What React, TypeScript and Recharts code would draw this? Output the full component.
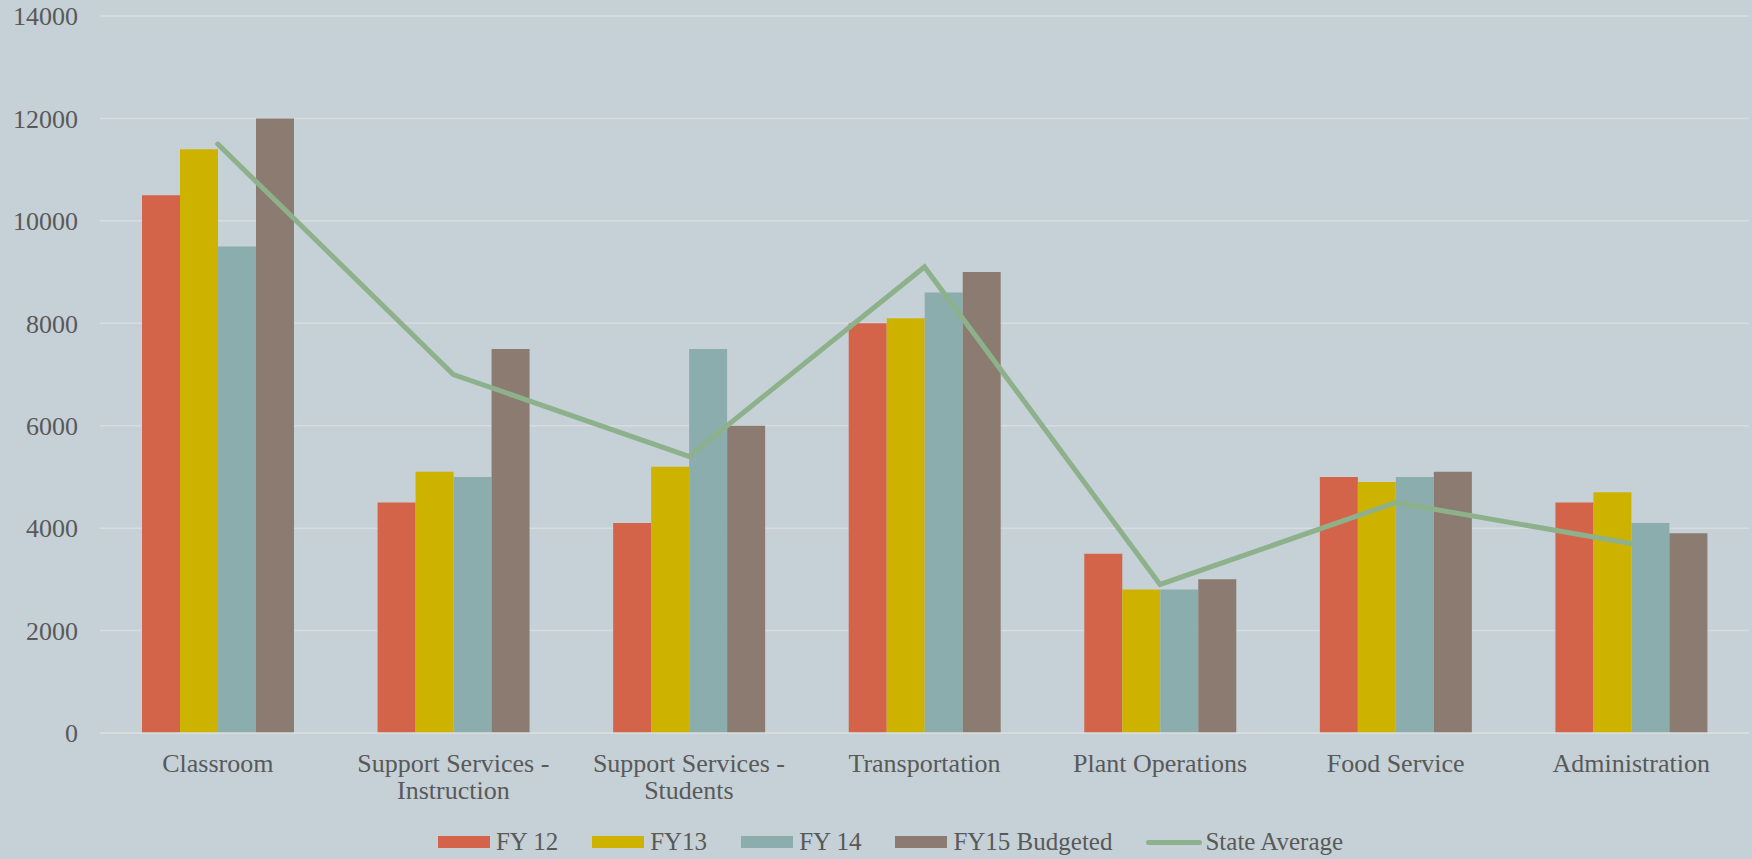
import React from 'react';
import {
  ComposedChart, Bar, Line, XAxis, YAxis, CartesianGrid, Legend,
} from 'recharts';

const categories = [
  'Classroom',
  'Support Services - Instruction',
  'Support Services - Students',
  'Transportation',
  'Plant Operations',
  'Food Service',
  'Administration',
];
const fy12 = [10500, 4500, 4100, 8000, 3500, 5000, 4500];
const fy13 = [11400, 5100, 5200, 8100, 2800, 4900, 4700];
const fy14 = [9500, 5000, 7500, 8600, 2800, 5000, 4100];
const fy15 = [12000, 7500, 6000, 9000, 3000, 5100, 3900];
const stateAverage = [11500, 7000, 5400, 9100, 2900, 4500, 3700];
const yTicks = [0, 2000, 4000, 6000, 8000, 10000, 12000, 14000];

const FONT = '"Liberation Serif", "Times New Roman", serif';
const TEXT = '#595959';
const GRID = '#D8DCDE';

const series = [
  { key: 'fy12', name: 'FY 12', color: '#D3644A' },
  { key: 'fy13', name: 'FY13', color: '#CDB300' },
  { key: 'fy14', name: 'FY 14', color: '#8CADAE' },
  { key: 'fy15', name: 'FY15 Budgeted', color: '#8C7B70' },
];
const lineColor = '#8DB18B';

const data = categories.map((name, i) => ({
  name,
  fy12: fy12[i],
  fy13: fy13[i],
  fy14: fy14[i],
  fy15: fy15[i],
  state: stateAverage[i],
}));

// break "Support Services - X" after the dash, like the original
function splitLabel(label: string): string[] {
  const idx = label.indexOf(' - ');
  if (idx < 0) return [label];
  return [label.slice(0, idx + 2), label.slice(idx + 3)];
}

const CategoryTick = (props: any) => {
  const { x, y, payload } = props;
  const lines = splitLabel(String(payload.value));
  return (
    <text x={x} y={y} textAnchor="middle" fill={TEXT} fontSize={26} fontFamily={FONT}>
      {lines.map((l, i) => (
        <tspan key={i} x={x} dy={i === 0 ? 38.7 : 27.3}>{l}</tspan>
      ))}
    </text>
  );
};

const LegendContent = () => (
  <div style={{
    display: 'flex', justifyContent: 'center', alignItems: 'center',
    fontFamily: FONT, fontSize: 25, color: TEXT, gap: 34,
  }}>
    {series.map((s) => (
      <div key={s.key} style={{ display: 'flex', alignItems: 'center', gap: 6 }}>
        <span style={{ display: 'inline-block', width: 52, height: 12, background: s.color }} />
        <span>{s.name}</span>
      </div>
    ))}
    <div style={{ display: 'flex', alignItems: 'center', gap: 3 }}>
      <span style={{ display: 'inline-block', width: 56, height: 5, borderRadius: 3, background: lineColor }} />
      <span>State Average</span>
    </div>
  </div>
);

export default function App() {
  return (
    <div style={{
      position: 'absolute', left: 0, top: 0, width: 1752, height: 859,
      background: '#C5D1D7', overflow: 'hidden',
    }}>
      <ComposedChart
        width={1752}
        height={859}
        data={data}
        margin={{ top: 16, right: 3, bottom: 0, left: 0 }}
        barGap={0}
      >
        <CartesianGrid vertical={false} stroke={GRID} strokeWidth={1.5} />
        <XAxis
          dataKey="name"
          height={126}
          interval={0}
          tick={<CategoryTick />}
          tickLine={false}
          tickSize={0}
          tickMargin={0}
          axisLine={{ stroke: GRID, strokeWidth: 1.5 }}
        />
        <YAxis
          width={100}
          domain={[0, 14000]}
          ticks={yTicks}
          interval={0}
          axisLine={false}
          tickLine={false}
          tickSize={0}
          tickMargin={22}
          tick={{ fill: TEXT, fontSize: 26, fontFamily: FONT }}
        />
        <Legend
          layout="horizontal"
          verticalAlign="middle"
          align="center"
          content={<LegendContent />}
          wrapperStyle={{ position: 'absolute', top: 828, left: 0, width: 1781, height: 28 }}
        />
        {series.map((s) => (
          <Bar
            key={s.key}
            dataKey={s.key}
            name={s.name}
            fill={s.color}
            barSize={38}
            isAnimationActive={false}
          />
        ))}
        <Line
          dataKey="state"
          name="State Average"
          stroke={lineColor}
          strokeWidth={5}
          strokeLinecap="round"
          dot={false}
          activeDot={false}
          isAnimationActive={false}
        />
      </ComposedChart>
    </div>
  );
}
